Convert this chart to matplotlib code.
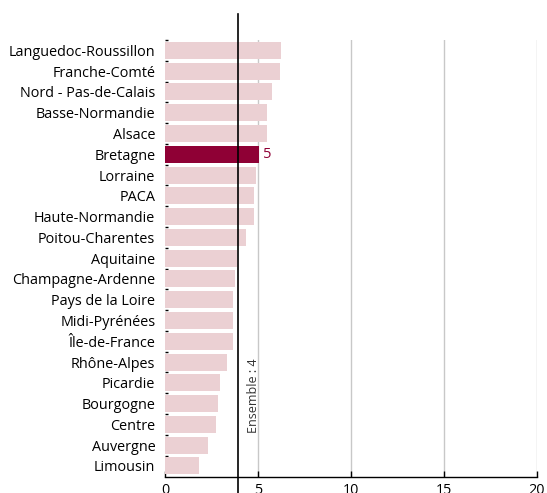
import matplotlib
matplotlib.use('Agg')
import matplotlib.pyplot as plt

# données
regions = ["Languedoc-Roussillon", "Franche-Comté", "Nord - Pas-de-Calais", "Basse-Normandie",
           "Alsace", "Bretagne", "Lorraine", "PACA", "Haute-Normandie", "Poitou-Charentes",
           "Aquitaine", "Champagne-Ardenne", "Pays de la Loire", "Midi-Pyrénées", "Île-de-France",
           "Rhône-Alpes", "Picardie", "Bourgogne", "Centre", "Auvergne", "Limousin"]
valeurs = [6.24, 6.16, 5.75, 5.47, 5.47, 5.03, 4.9, 4.77, 4.77, 4.38,
           3.88, 3.76, 3.67, 3.67, 3.67, 3.33, 2.97, 2.83, 2.76, 2.33, 1.83]
ensemble = 3.92
highlight = "Bretagne"
xticks = [0, 5, 10, 15, 20]

plt.rcParams['font.family'] = ['Open Sans', 'DejaVu Sans']

fig = plt.figure(figsize=(5.47, 4.93), dpi=100)
ax = fig.add_axes([0.3016, 0.0325, 0.6801, 0.8864])

pos = list(range(len(regions)))
colors = ["#8f0035" if r == highlight else "#ebd0d3" for r in regions]
ax.barh(pos, valeurs, height=0.82, color=colors, zorder=2)

# grille verticale
for x in xticks[1:]:
    ax.axvline(x, color="#c8c8c8", lw=1, zorder=1)

# ligne de l'ensemble
ax.plot([ensemble, ensemble], [21.3, -1.75], color="black", lw=1.2, zorder=3, clip_on=False)
ax.text(4.75, 16.6, "Ensemble : 4", rotation=90, ha="center", va="center",
        fontsize=9, color="#333333", zorder=4)

# étiquette de la région mise en avant
i = regions.index(highlight)
ax.text(valeurs[i] + 0.25, i, "5", color="#8f0035", va="center", ha="left", fontsize=10.5)

ax.set_ylim(20.53, -0.4)
ax.set_xlim(0, 20)
ax.set_yticks(pos)
ax.set_yticklabels(regions, fontsize=10.4)
ax.set_yticks([p + 0.5 for p in pos[:-1]] + [-0.5], minor=True)
ax.set_xticks(xticks)
ax.set_xticklabels([str(x) for x in xticks], fontsize=10.4)
ax.tick_params(axis="x", direction="in", length=4, width=1, pad=4)
ax.tick_params(axis="y", which="major", length=0, pad=7)
ax.tick_params(axis="y", which="minor", direction="in", length=2, width=1, color="black")
for s in ["top", "right", "left"]:
    ax.spines[s].set_visible(False)
ax.spines["bottom"].set_linewidth(1)

fig.savefig("out.png", dpi=100)
